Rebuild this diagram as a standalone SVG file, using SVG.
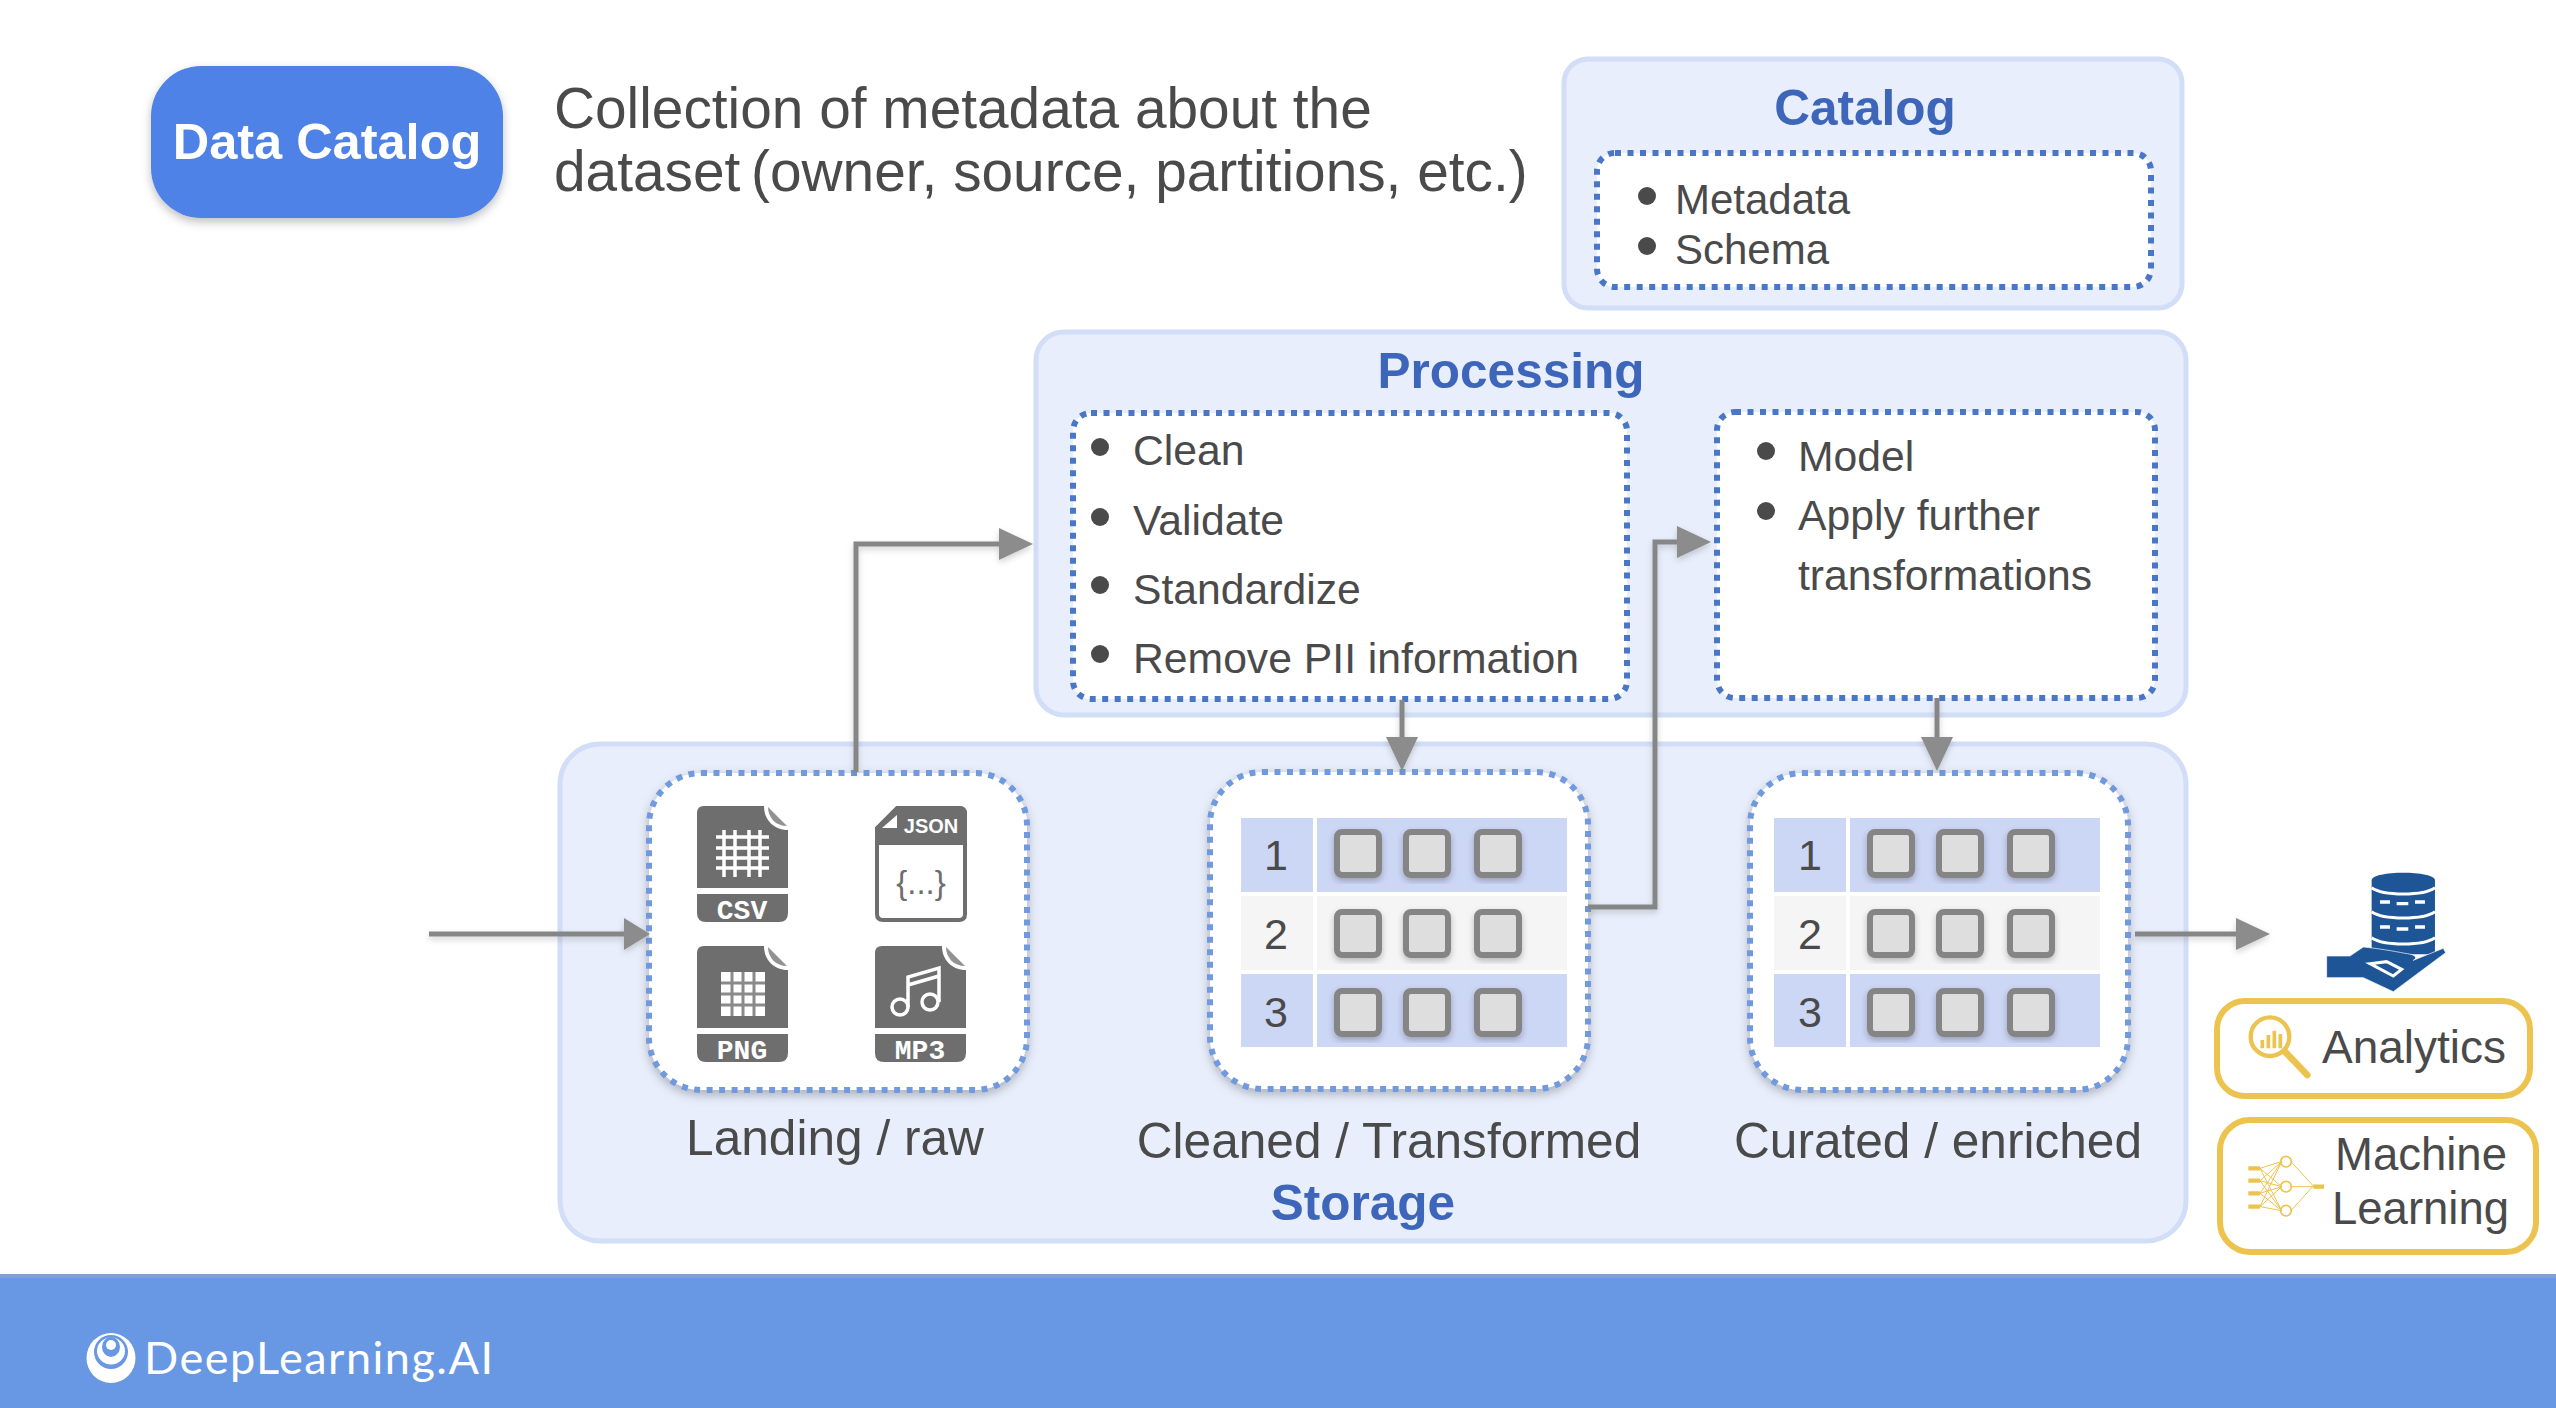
<svg xmlns="http://www.w3.org/2000/svg" width="2556" height="1408" viewBox="0 0 2556 1408">
<style>
text{font-family:"Liberation Sans",Arial,sans-serif;fill:#4a4a4a}
.panel{fill:#e8eefb;stroke:#d2ddf7;stroke-width:5}
.dot{fill:#fff;stroke:#4a76c8;stroke-width:6;stroke-dasharray:6 6.5}
.dotl{fill:#fff;stroke:#7199dd;stroke-width:6;stroke-dasharray:6 6.5;filter:url(#sh)}
.head{font-size:49.5px;font-weight:700;fill:#3d65b9;text-anchor:middle}
.body{font-size:42.7px}
.lab{font-size:49.6px;text-anchor:middle}
.dotb{fill:#4a4a4a}
.num{font-size:43px;text-anchor:middle}
.cell{fill:#dedede;stroke:#858585;stroke-width:6;filter:url(#sh2)}
.gold{fill:#fff;stroke:#edc34f;stroke-width:6}
.conn{fill:none;stroke:#868686;stroke-width:5;filter:url(#sh3)}
.filetxt{font-family:"Liberation Mono",monospace;font-weight:700;font-size:28px;fill:#fff;text-anchor:middle}
.ico{fill:#6e6e6e}
.wl{fill:none;stroke:#fff;stroke-width:3.5}
</style>
<defs>
<filter id="sh" x="-10%" y="-10%" width="120%" height="120%"><feDropShadow dx="0" dy="4" stdDeviation="5" flood-color="#000" flood-opacity=".25"/></filter>
<filter id="sh2" x="-20%" y="-20%" width="140%" height="140%"><feDropShadow dx="0" dy="3" stdDeviation="3" flood-color="#000" flood-opacity=".25"/></filter>
<filter id="sh3" filterUnits="userSpaceOnUse" x="380" y="500" width="1950" height="480"><feDropShadow dx="0" dy="3" stdDeviation="3" flood-color="#000" flood-opacity=".18"/></filter>
<marker id="arrow" markerUnits="userSpaceOnUse" markerWidth="36" markerHeight="36" refX="1" refY="18" orient="auto"><path d="M0 2L34 18L0 34Z" fill="#8c8c8c"/></marker>
<marker id="arrow-s" markerUnits="userSpaceOnUse" markerWidth="30" markerHeight="36" refX="1" refY="18" orient="auto"><path d="M0 2L26 18L0 34Z" fill="#8c8c8c"/></marker>
<g id="file">
<path class="ico" d="M7 0H67C67 14 77 24 91 24V82H0V7Q0 0 7 0Z"/>
<path class="ico" d="M71 1L90 20C79 20 71 12 71 1Z" fill-opacity=".75"/>
<path class="ico" d="M0 88H91V107Q91 116 82 116H9Q0 116 0 107Z"/>
</g>
<g id="rows">
<rect x="0" y="0" width="72" height="74" fill="#ccd6f5"/><rect x="76" y="0" width="250" height="74" fill="#ccd6f5"/>
<rect x="0" y="78" width="72" height="74" fill="#f5f5f5"/><rect x="76" y="78" width="250" height="74" fill="#f5f5f5"/>
<rect x="0" y="156" width="72" height="73" fill="#ccd6f5"/><rect x="76" y="156" width="250" height="73" fill="#ccd6f5"/>
<g>
<rect class="cell" x="96" y="14" width="42" height="43" rx="5"/><rect class="cell" x="165" y="14" width="42" height="43" rx="5"/><rect class="cell" x="236" y="14" width="42" height="43" rx="5"/>
<rect class="cell" x="96" y="94" width="42" height="43" rx="5"/><rect class="cell" x="165" y="94" width="42" height="43" rx="5"/><rect class="cell" x="236" y="94" width="42" height="43" rx="5"/>
<rect class="cell" x="96" y="173" width="42" height="43" rx="5"/><rect class="cell" x="165" y="173" width="42" height="43" rx="5"/><rect class="cell" x="236" y="173" width="42" height="43" rx="5"/>
</g>
</g>
</defs>
<rect width="2556" height="1408" fill="#fff"/>

<g id="data-catalog">
<rect x="151" y="66" width="352" height="152" rx="50" fill="#5082e6" filter="url(#sh)"/>
<text x="327" y="159" font-size="50.5" font-weight="700" text-anchor="middle" style="fill:#fff">Data Catalog</text>
</g>
<g id="description">
<text x="554" y="128" font-size="56.8">Collection of metadata about the</text>
<text x="554" y="191" font-size="56.8">dataset <tspan dx="-5">(owner, source, partitions, etc.)</tspan></text>
</g>

<g id="catalog">
<rect class="panel" x="1564" y="59" width="618" height="249" rx="24"/>
<text class="head" x="1865" y="125">Catalog</text>
<rect class="dot" x="1597" y="153" width="554" height="134" rx="18"/>
<circle class="dotb" cx="1647" cy="196" r="9"/><circle class="dotb" cx="1647" cy="246" r="9"/>
<text x="1675" y="214" font-size="42">Metadata</text>
<text x="1675" y="264" font-size="42">Schema</text>
</g>

<g id="processing">
<rect class="panel" x="1036" y="332" width="1150" height="383" rx="28"/>
<text class="head" x="1511" y="388">Processing</text>
<rect class="dot" x="1073" y="413" width="554" height="286" rx="18"/>
<circle class="dotb" cx="1100" cy="447" r="9"/><circle class="dotb" cx="1100" cy="517" r="9"/><circle class="dotb" cx="1100" cy="585" r="9"/><circle class="dotb" cx="1100" cy="654" r="9"/>
<text class="body" x="1133" y="465">Clean</text>
<text class="body" x="1133" y="535">Validate</text>
<text class="body" x="1133" y="604">Standardize</text>
<text class="body" x="1133" y="673">Remove PII information</text>
<rect class="dot" x="1717" y="412" width="438" height="286" rx="18"/>
<circle class="dotb" cx="1766" cy="451" r="9"/><circle class="dotb" cx="1766" cy="511" r="9"/>
<text class="body" x="1798" y="471">Model</text>
<text class="body" x="1798" y="530">Apply further</text>
<text class="body" x="1798" y="590">transformations</text>
</g>

<g id="storage">
<rect class="panel" x="560" y="744" width="1626" height="497" rx="40"/>
<text class="head" x="1363" y="1220">Storage</text>
</g>

<g id="landing">
<rect class="dotl" x="649" y="773" width="378" height="317" rx="52"/>
<g id="icon-csv" transform="translate(697,806)">
<use href="#file"/>
<path class="wl" d="M19 31H72M19 42H72M19 52H72M19 62H72M27 24V71M38 24V71M52 24V71M63 24V71"/>
<text class="filetxt" x="45" y="113">CSV</text>
</g>
<g id="icon-json" transform="translate(875,806)">
<path d="M22 2H84Q90 2 90 8V108Q90 114 84 114H8Q2 114 2 108V22Z" fill="#fff" stroke="#6e6e6e" stroke-width="4"/>
<path class="ico" d="M22 0H84Q92 0 92 8V39H0V22Z"/>
<path d="M7 22L22 9V22Z" fill="#fff"/>
<text x="56" y="27" font-size="20" font-weight="700" text-anchor="middle" style="fill:#fff">JSON</text>
<text x="46" y="88" font-size="33" text-anchor="middle" style="fill:#6e6e6e">{...}</text>
</g>
<g id="icon-png" transform="translate(697,946)">
<use href="#file"/>
<path d="M24 26H68V70H24Z" fill="#fff"/>
<path d="M35 26V70M46 26V70M57 26V70M24 37H68M24 48H68M24 59H68" fill="none" stroke="#8a8a8a" stroke-width="3"/>
<text class="filetxt" x="45" y="113">PNG</text>
</g>
<g id="icon-mp3" transform="translate(875,946)">
<use href="#file"/>
<circle class="wl" cx="25" cy="61" r="8"/><circle class="wl" cx="55" cy="56" r="8"/>
<path class="wl" d="M33 61V31L64 22V56M33 39L64 30"/>
<text class="filetxt" x="45" y="113">MP3</text>
</g>
<text class="lab" x="835" y="1155">Landing / raw</text>
</g>

<g id="cleaned">
<rect class="dotl" x="1210" y="772" width="378" height="317" rx="52"/>
<use href="#rows" x="1241" y="818"/>
<text class="num" x="1276" y="870">1</text><text class="num" x="1276" y="949">2</text><text class="num" x="1276" y="1027">3</text>
<text class="lab" x="1389" y="1158">Cleaned / Transformed</text>
</g>

<g id="curated">
<rect class="dotl" x="1750" y="773" width="378" height="317" rx="52"/>
<use href="#rows" x="1774" y="818"/>
<text class="num" x="1810" y="870">1</text><text class="num" x="1810" y="949">2</text><text class="num" x="1810" y="1027">3</text>
<text class="lab" x="1938" y="1158">Curated / enriched</text>
</g>

<g id="data-source-icon" transform="translate(2100,841) scale(.3333)">
<path d="M815 118C815 88 1005 88 1005 118V340H815Z" fill="#1d5596"/>
<path d="M815 140C850 165 970 165 1005 140M815 212C850 237 970 237 1005 212M815 290C850 315 970 315 1005 290" fill="none" stroke="#fff" stroke-width="9"/>
<path d="M840 183H870M890 188H925M945 183H975M840 258H870M890 264H925M945 258H975" fill="none" stroke="#fff" stroke-width="10"/>
<path d="M680 345H750L790 318C830 322 880 330 915 337C945 340 955 350 940 358L1030 322L1037 335L880 452L790 410H680Z" fill="#1d5596" stroke="#fff" stroke-width="2"/>
<path d="M810 368L860 362L905 385L880 405Z" fill="none" stroke="#fff" stroke-width="9"/>
</g>

<g id="analytics">
<rect class="gold" x="2217" y="1001" width="313" height="95" rx="28"/>
<g transform="translate(2100,840) scale(.3333)">
<circle cx="510" cy="590" r="58" fill="none" stroke="#edc34f" stroke-width="13"/>
<path d="M487 625V600M505 625V585M523 625V572M541 625V582" fill="none" stroke="#edc34f" stroke-width="11"/>
<path d="M555 635L622 705" fill="none" stroke="#edc34f" stroke-width="20" stroke-linecap="round"/>
</g>
<text x="2322" y="1063" font-size="46">Analytics</text>
</g>

<g id="machine-learning">
<rect class="gold" x="2220" y="1120" width="316" height="132" rx="30"/>
<g transform="translate(2100,840) scale(.3333)" fill="none" stroke="#edc34f">
<path d="M445 985H480M445 1022H480M445 1060H480M445 1100H480" stroke-width="13"/>
<path d="M480 985L545 965M480 985L545 1040M480 985L545 1112M480 1022L545 965M480 1022L545 1040M480 1022L545 1112M480 1060L545 965M480 1060L545 1040M480 1060L545 1112M480 1100L545 965M480 1100L545 1040M480 1100L545 1112M573 965L640 1038M573 1040H640M573 1112L640 1038" stroke-width="3"/>
<circle cx="558" cy="965" r="16" stroke-width="5"/><circle cx="558" cy="1040" r="16" stroke-width="5"/><circle cx="558" cy="1112" r="16" stroke-width="5"/>
<path d="M640 1040H672" stroke-width="13"/>
</g>
<text x="2335" y="1170" font-size="45.5">Machine</text>
<text x="2332" y="1224" font-size="45.5">Learning</text>
</g>

<g id="connectors">
<path class="conn" marker-end="url(#arrow-s)" d="M429 934H625"/>
<path class="conn" marker-end="url(#arrow)" d="M856 772V544H1000"/>
<path class="conn" marker-end="url(#arrow)" d="M1402 700V738"/>
<path class="conn" marker-end="url(#arrow)" d="M1588 907H1655V542H1678"/>
<path class="conn" marker-end="url(#arrow)" d="M1937 698V738"/>
<path class="conn" marker-end="url(#arrow)" d="M2135 934H2237"/>
</g>

<g id="footer">
<rect x="0" y="1275" width="2556" height="133" fill="#6897e3"/>
<rect x="0" y="1274" width="2556" height="4" fill="#7fa3cf"/>
<g id="logo">
<ellipse cx="111" cy="1358" rx="24.5" ry="25" fill="#fff"/>
<ellipse cx="111" cy="1352" rx="17" ry="17" fill="#6897e3"/>
<ellipse cx="111" cy="1351" rx="14" ry="13.5" fill="#fff"/>
<ellipse cx="111" cy="1347" rx="9" ry="10" fill="#6897e3"/>
<circle cx="111" cy="1345" r="5" fill="#fff"/>
</g>
<text x="144" y="1374" font-size="45" style="font-family:Lato,'Open Sans',sans-serif;fill:#fff" textLength="349" lengthAdjust="spacing">DeepLearning.AI</text>
</g>
</svg>
